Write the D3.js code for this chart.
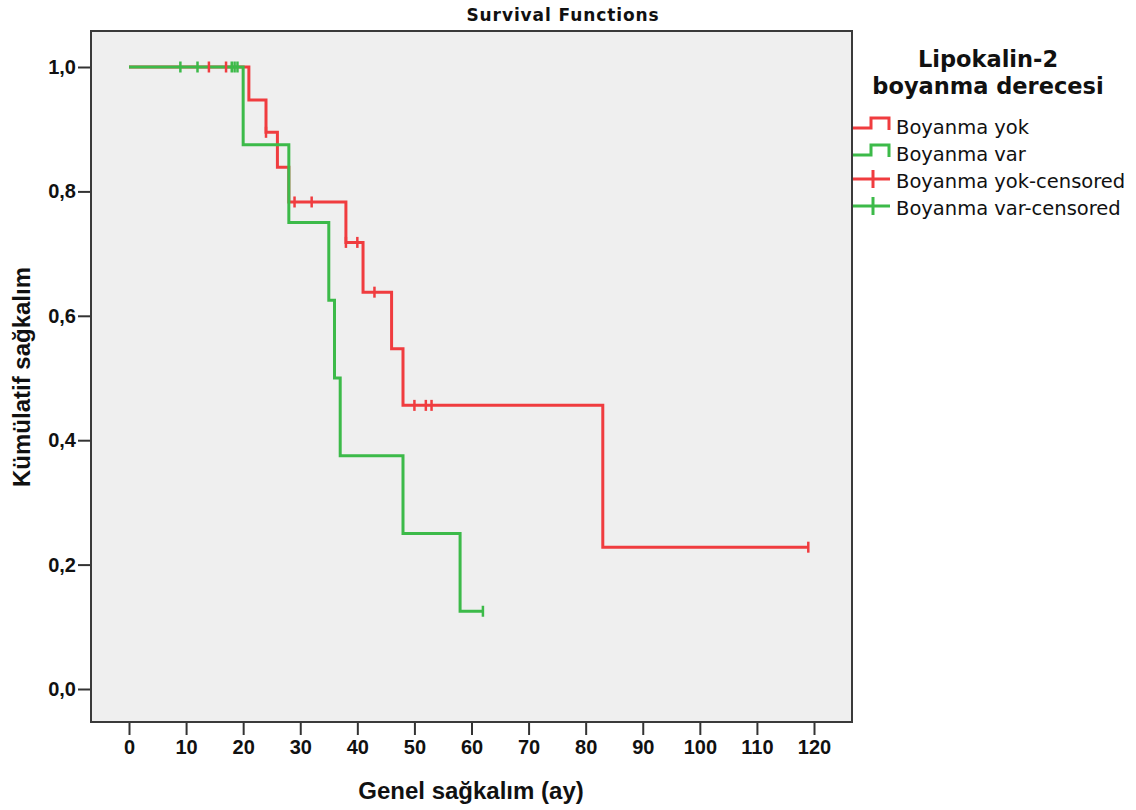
<!DOCTYPE html>
<html>
<head>
<meta charset="utf-8">
<script src="https://cdn.jsdelivr.net/npm/d3@7/dist/d3.min.js"></script>
<style>
  html, body { margin: 0; padding: 0; background: #ffffff; }
  svg { display: block; }
</style>
</head>
<body>
<svg id="chart" width="1136" height="810"></svg>
<script>
// ---- Data ----
const groupNames = ["Boyanma yok", "Boyanma var"];
const legendLabels = ["Boyanma yok", "Boyanma var", "Boyanma yok-censored", "Boyanma var-censored"];

// Boyanma yok: event times and survival after each event
const yokEventTimes = [21, 24, 26, 28, 38, 41, 46, 48, 83];
const yokSurvival   = [0.947, 0.895, 0.839, 0.783, 0.718, 0.638, 0.547, 0.456, 0.228];
const yokCensorTimes = [14, 17, 24, 29, 32, 38, 40, 43, 50, 52, 53, 119];
const yokEndTime = 119;

// Boyanma var
const varEventTimes = [20, 28, 35, 36, 37, 48, 58];
const varSurvival   = [0.875, 0.75, 0.625, 0.5, 0.375, 0.25, 0.125];
const varCensorTimes = [9, 12, 18, 18.5, 19, 62];
const varEndTime = 62;

const xTicks = [0, 10, 20, 30, 40, 50, 60, 70, 80, 90, 100, 110, 120];
const yTicks = [0, 0.2, 0.4, 0.6, 0.8, 1.0];

// ---- Layout ----
const frame = { left: 91, top: 31, right: 852, bottom: 722 };
const colors = ["#f03c3f", "#3cba49"];

const svg = d3.select("#chart");
const x = d3.scaleLinear().domain([0, 120]).range([129, 814]);
const y = d3.scaleLinear().domain([0, 1]).range([689, 67]);

// plot background
svg.append("rect")
  .attr("x", frame.left).attr("y", frame.top)
  .attr("width", frame.right - frame.left).attr("height", frame.bottom - frame.top)
  .attr("fill", "#efefef");

// title
svg.append("text")
  .attr("x", 563).attr("y", 21)
  .attr("text-anchor", "middle")
  .attr("font-family", "'DejaVu Sans', sans-serif")
  .attr("font-weight", "bold").attr("font-size", 17)
  .attr("letter-spacing", 0.9)
  .attr("fill", "#111")
  .text("Survival Functions");

// axes
const tickFont = "'Liberation Sans', Arial, sans-serif";
const xAxis = d3.axisBottom(x).tickValues(xTicks).tickSize(13).tickPadding(5)
  .tickFormat(d => String(d));
const gx = svg.append("g").attr("transform", `translate(0,${frame.bottom})`).call(xAxis);
gx.select(".domain").remove();
gx.selectAll(".tick line").attr("stroke", "#333").attr("stroke-width", 2);
gx.selectAll(".tick text")
  .attr("font-family", tickFont).attr("font-weight", "bold").attr("font-size", 20)
  .attr("fill", "#111");

const yAxis = d3.axisLeft(y).tickValues(yTicks).tickSize(13).tickPadding(2)
  .tickFormat(d => d3.format(".1f")(d).replace(".", ","));
const gy = svg.append("g").attr("transform", `translate(${frame.left},0)`).call(yAxis);
gy.select(".domain").remove();
gy.selectAll(".tick line").attr("stroke", "#333").attr("stroke-width", 2);
gy.selectAll(".tick text")
  .attr("font-family", tickFont).attr("font-weight", "bold").attr("font-size", 20)
  .attr("fill", "#111");

// axis labels
svg.append("text")
  .attr("x", 471).attr("y", 799)
  .attr("text-anchor", "middle")
  .attr("font-family", tickFont).attr("font-weight", "bold").attr("font-size", 24)
  .attr("fill", "#111")
  .text("Genel sağkalım (ay)");
svg.append("text")
  .attr("transform", "translate(30,377) rotate(-90)")
  .attr("text-anchor", "middle")
  .attr("font-family", tickFont).attr("font-weight", "bold").attr("font-size", 24)
  .attr("fill", "#111")
  .text("Kümülatif sağkalım");

// ---- KM curves ----
function stepPoints(times, surv, endTime) {
  const pts = [[0, 1]];
  let s = 1;
  times.forEach((t, i) => { pts.push([t, s]); s = surv[i]; pts.push([t, s]); });
  pts.push([endTime, s]);
  return pts;
}
function survAt(t, times, surv) {
  let s = 1;
  times.forEach((e, i) => { if (t >= e) s = surv[i]; });
  return s;
}
const groups = [
  { times: yokEventTimes, surv: yokSurvival, cens: yokCensorTimes, end: yokEndTime },
  { times: varEventTimes, surv: varSurvival, cens: varCensorTimes, end: varEndTime }
];
const line = d3.line().x(d => x(d[0])).y(d => y(d[1]));

groups.forEach((g, i) => {
  svg.append("path")
    .attr("d", line(stepPoints(g.times, g.surv, g.end)))
    .attr("fill", "none").attr("stroke", colors[i]).attr("stroke-width", 3)
    .attr("stroke-linejoin", "miter");
});
groups.forEach((g, i) => {
  svg.append("g").selectAll("line").data(g.cens).join("line")
    .attr("x1", d => x(d)).attr("x2", d => x(d))
    .attr("y1", d => y(survAt(d, g.times, g.surv)) - 5.5)
    .attr("y2", d => y(survAt(d, g.times, g.surv)) + 5.5)
    .attr("stroke", colors[i]).attr("stroke-width", 2.5);
});

// frame border
svg.append("rect")
  .attr("x", frame.left).attr("y", frame.top)
  .attr("width", frame.right - frame.left).attr("height", frame.bottom - frame.top)
  .attr("fill", "none").attr("stroke", "#3a3a3a").attr("stroke-width", 2);

// ---- Legend ----
const legendFont = "'DejaVu Sans', sans-serif";
svg.append("text")
  .attr("x", 988).attr("y", 67).attr("text-anchor", "middle")
  .attr("font-family", legendFont).attr("font-weight", "bold").attr("font-size", 22.5)
  .attr("fill", "#111").text("Lipokalin-2");
svg.append("text")
  .attr("x", 988).attr("y", 94).attr("text-anchor", "middle")
  .attr("font-family", legendFont).attr("font-weight", "bold").attr("font-size", 22.5)
  .attr("fill", "#111").text("boyanma derecesi");

const legendY = [128, 155, 182, 209];
legendLabels.forEach((lab, i) => {
  const cy = legendY[i];
  const col = colors[i % 2];
  const lg = svg.append("g");
  if (i < 2) {
    lg.append("path")
      .attr("d", `M853,${cy} H871 V${cy - 10} H889 V${cy + 2}`)
      .attr("fill", "none").attr("stroke", col).attr("stroke-width", 3);
  } else {
    lg.append("line").attr("x1", 853).attr("x2", 890).attr("y1", cy - 3).attr("y2", cy - 3)
      .attr("stroke", col).attr("stroke-width", 3);
    lg.append("line").attr("x1", 873).attr("x2", 873).attr("y1", cy - 12).attr("y2", cy + 6)
      .attr("stroke", col).attr("stroke-width", 3);
  }
  lg.append("text")
    .attr("x", 896).attr("y", cy + 6)
    .attr("font-family", legendFont).attr("font-size", 19.5)
    .attr("fill", "#111").text(lab);
});
</script>
</body>
</html>
